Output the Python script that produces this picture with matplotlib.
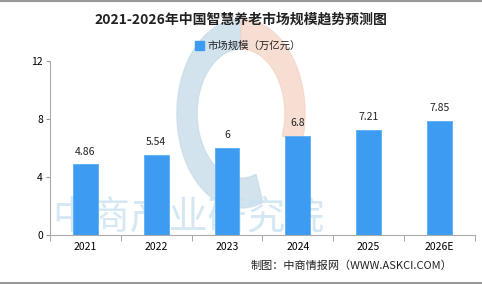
import matplotlib.pyplot as plt
from matplotlib.patches import Wedge

plt.rcParams['font.family'] = ['Noto Sans CJK SC', 'DejaVu Sans']

years = ['2021', '2022', '2023', '2024', '2025', '2026E']
values = [4.86, 5.54, 6, 6.8, 7.21, 7.85]
labels = ['4.86', '5.54', '6', '6.8', '7.21', '7.85']

fig = plt.figure(figsize=(4.82, 2.84), dpi=100)
ax = fig.add_axes([0.104, 0.173, 0.881, 0.612])

# watermark logo (rough)
wm = fig.add_axes([0.36, 0.25, 0.28, 0.7])
wm.set_xlim(-1, 1)
wm.set_ylim(-1, 1)
wm.axis('off')
wm.add_patch(Wedge((0, 0), 0.95, 90, 290, width=0.3, color='#c9dcea', alpha=0.8))
wm.add_patch(Wedge((0, 0), 0.95, -20, 90, width=0.3, color='#f6d6c8', alpha=0.8))
wm.set_zorder(0)
ax.set_zorder(1)
ax.patch.set_alpha(0)

x = range(len(years))
bars = ax.bar(x, values, width=0.35, color='#3d9cf2', edgecolor='#5aaef5', linewidth=0.6)
for i, v in enumerate(values):
    ax.text(i, v + 0.55, labels[i], ha='center', va='bottom', fontsize=7.5, color='#222222')

ax.set_xlim(-0.5, len(years) - 0.5)
ax.set_ylim(0, 12)
ax.set_yticks([0, 4, 8, 12])
ax.set_xticks(x)
ax.set_xticklabels(years, fontsize=7.5)
ax.set_xticks([i + 0.5 for i in range(-1, len(years))], minor=True)
ax.tick_params(axis='x', which='major', length=0, pad=5)
ax.tick_params(axis='x', which='minor', length=4, color='#999999')
ax.tick_params(axis='y', length=3, color='#999999', labelsize=7.5, pad=2)
for s in ['top', 'right']:
    ax.spines[s].set_visible(False)
ax.spines['left'].set_color('#aaaaaa')
ax.spines['bottom'].set_color('#aaaaaa')

fig.text(0.5, 0.93, '2021-2026年中国智慧养老市场规模趋势预测图', ha='center', va='center',
         fontsize=10, fontweight='bold', color='#222222')
fig.patches.append(plt.Rectangle((0.405, 0.825), 0.018, 0.03, transform=fig.transFigure,
                                 color='#3d9cf2'))
fig.text(0.43, 0.84, '市场规模（万亿元）', ha='left', va='center', fontsize=7.5, color='#222222')
fig.text(0.39, 0.235, '中商产业研究院', ha='center', va='center', fontsize=28,
         color='#c6dff0', alpha=0.75, zorder=0.5)
fig.text(0.73, 0.065, '制图：中商情报网（WWW.ASKCI.COM）', ha='center', va='center',
         fontsize=8, color='#222222')

fig.add_artist(plt.Line2D([0, 1], [0.997, 0.997], color='#999999', linewidth=1.5))
fig.add_artist(plt.Line2D([0, 1], [0.003, 0.003], color='#999999', linewidth=1.5))

fig.savefig('out.png', dpi=100)
